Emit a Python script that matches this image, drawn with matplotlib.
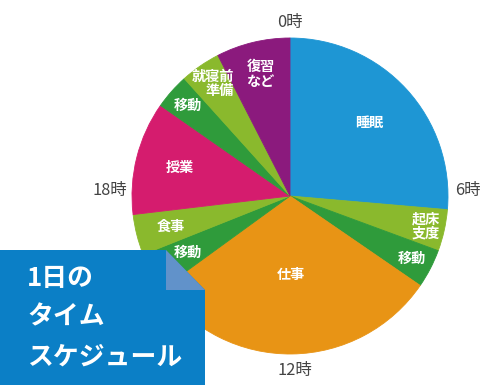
import numpy as np
import matplotlib
matplotlib.use("Agg")
import matplotlib.pyplot as plt
from matplotlib.patches import Polygon

plt.rcParams['font.family'] = ['Noto Sans CJK JP', 'DejaVu Sans']

# ---- data (hours, clockwise from 0時) ----
activities = ["睡眠", "起床\n支度", "移動", "仕事", "移動", "食事", "授業", "移動", "就寝前\n準備", "復習\nなど"]
hours = [6.33, 1.02, 0.95, 7.30, 0.95, 1.00, 2.78, 0.87, 0.99, 1.81]
colors = ["#1e96d4", "#8ab92d", "#2f9b3b", "#e89415", "#2f9b3b", "#8ab92d",
          "#d51c6e", "#2f9b3b", "#8ab92d", "#8b1a7d"]
label_dist = [0.68, 0.88, 0.87, 0.50, 0.74, 0.78, 0.72, 0.86, 0.86, 0.79]
label_align = ["center"] * 8 + ["right", "center"]
hour_ticks = ["0時", "6時", "12時", "18時"]
title_lines = ["1日の", "タイム", "スケジュール"]

W, H = 493, 385
fig = plt.figure(figsize=(W / 100, H / 100), dpi=100)
ax = fig.add_axes([0, 0, 1, 1])

cx, cy, R = 290, H - 196, 158
wedges, _ = ax.pie(hours, colors=colors, startangle=90, counterclock=False,
                   radius=R, center=(cx, cy),
                   wedgeprops=dict(linewidth=0.6))
for w in wedges:
    w.set_edgecolor(w.get_facecolor())

for w, lab, d, al in zip(wedges, activities, label_dist, label_align):
    th = np.deg2rad((w.theta1 + w.theta2) / 2)
    x = cx + R * d * np.cos(th)
    y = cy + R * d * np.sin(th)
    ax.text(x, y, lab, ha="center", va="center", color="white", fontsize=10.2,
            fontweight="bold", linespacing=1.05, multialignment=al)

# hour labels
hour_pos = [(290, H - 23), (468, H - 191), (295, H - 370), (110, H - 191)]
for t, (x, y) in zip(hour_ticks, hour_pos):
    ax.text(x, y, t, ha="center", va="center", color="#444444", fontsize=11.8)

# title box with folded corner
box = Polygon([(0, H - 250), (165.7, H - 250), (205, H - 290), (205, 0), (0, 0)],
              closed=True, facecolor="#0b7fc6", edgecolor="none", zorder=5)
fold = Polygon([(165.7, H - 250), (165.7, H - 290), (205, H - 290)],
               closed=True, facecolor="#6192ca", edgecolor="none", zorder=6)
ax.add_patch(box)
ax.add_patch(fold)
for line, yy in zip(title_lines, [278, 317, 356.7]):
    ax.text(27, H - yy, line, ha="left", va="center", color="white",
            fontsize=18.6, fontweight="bold", zorder=7)

ax.set_xlim(0, W)
ax.set_ylim(0, H)
ax.set_aspect("equal")
ax.axis("off")
fig.savefig("out.png", dpi=100)
